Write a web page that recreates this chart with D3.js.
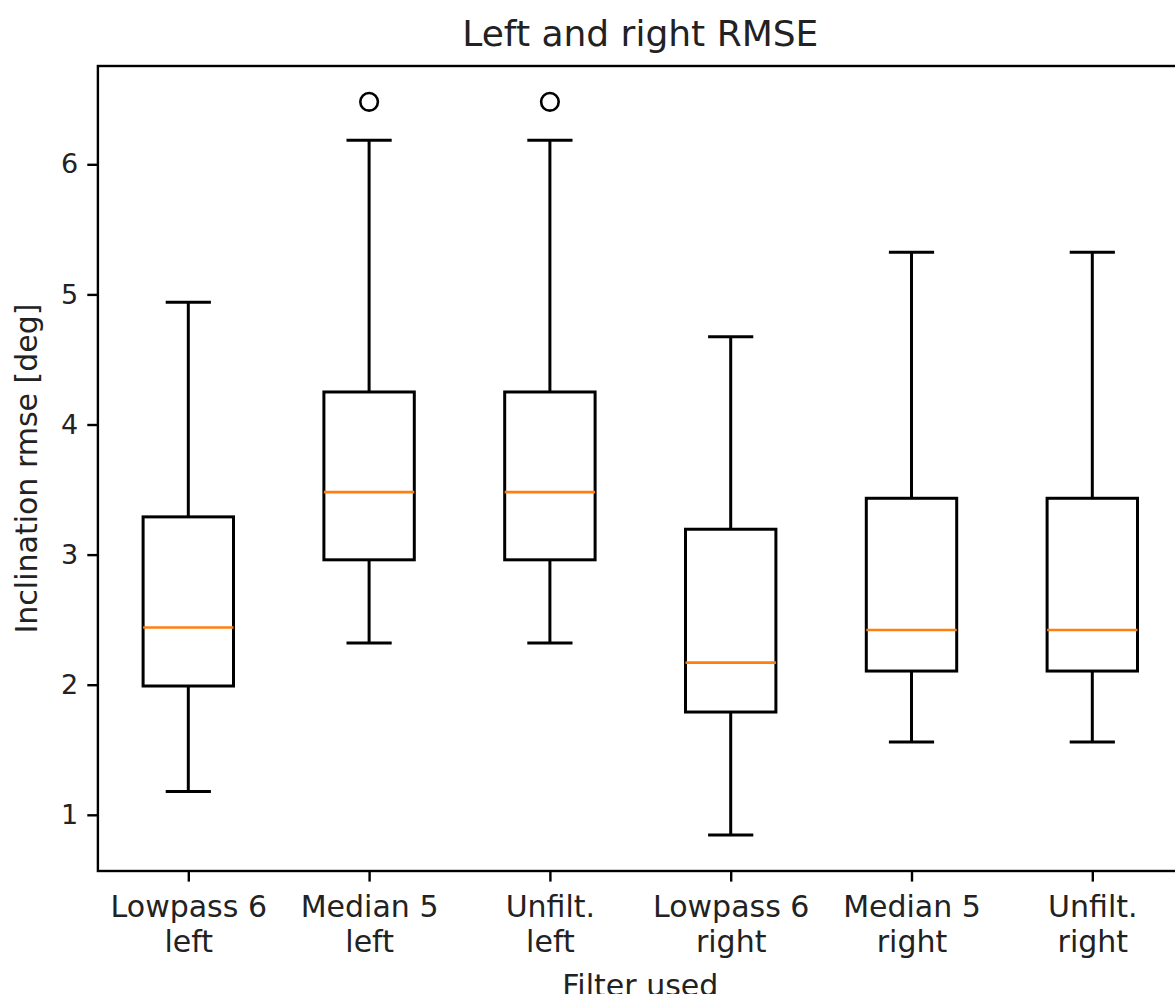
<!DOCTYPE html>
<html>
<head>
<meta charset="utf-8">
<script src="https://cdn.jsdelivr.net/npm/d3@7"></script>
<style>
  html, body { margin: 0; padding: 0; background: #ffffff; }
  svg { display: block; font-family: "DejaVu Sans", sans-serif; }
</style>
</head>
<body>
<svg id="chart" width="1175" height="994"></svg>
<script>
// Box statistics per filter (inclination RMSE, degrees)
const categories = ["Lowpass 6\nleft", "Median 5\nleft", "Unfilt.\nleft",
                    "Lowpass 6\nright", "Median 5\nright", "Unfilt.\nright"];
const whiskerLow  = [1.18, 2.32, 2.32, 0.845, 1.56, 1.56];
const q1          = [1.99, 2.96, 2.96, 1.79, 2.105, 2.105];
const medians     = [2.44, 3.48, 3.48, 2.17, 2.42, 2.42];
const q3          = [3.29, 4.25, 4.25, 3.195, 3.433, 3.433];
const whiskerHigh = [4.94, 6.184, 6.184, 4.675, 5.324, 5.324];
const outliers    = [[], [6.48], [6.48], [], [], []];
const yTicks      = [1, 2, 3, 4, 5, 6];

const svg = d3.select("#chart");
const plotLeft = 97.9, plotRight = 1182.7, plotTop = 66, plotBottom = 871;

const x = d3.scaleLinear().domain([0.5, categories.length + 0.5]).range([plotLeft, plotRight]);
const y = d3.scaleLinear().domain([0.5681, 6.7556]).range([plotBottom, plotTop]);

const boxHalf = (x(1.25) - x(1));     // box width 0.5
const capHalf = (x(1.125) - x(1));    // cap width 0.25

const data = categories.map((c, i) => ({
  pos: i + 1, lo: whiskerLow[i], q1: q1[i], med: medians[i],
  q3: q3[i], hi: whiskerHigh[i], out: outliers[i]
}));

const g = svg.append("g");
const boxes = g.selectAll("g.box").data(data).join("g").attr("class", "box");

// whiskers
boxes.append("line")
  .attr("x1", d => x(d.pos)).attr("x2", d => x(d.pos))
  .attr("y1", d => y(d.lo)).attr("y2", d => y(d.q1))
  .attr("stroke", "#000").attr("stroke-width", 3);
boxes.append("line")
  .attr("x1", d => x(d.pos)).attr("x2", d => x(d.pos))
  .attr("y1", d => y(d.q3)).attr("y2", d => y(d.hi))
  .attr("stroke", "#000").attr("stroke-width", 3);
// caps
boxes.append("line")
  .attr("x1", d => x(d.pos) - capHalf).attr("x2", d => x(d.pos) + capHalf)
  .attr("y1", d => y(d.lo)).attr("y2", d => y(d.lo))
  .attr("stroke", "#000").attr("stroke-width", 3);
boxes.append("line")
  .attr("x1", d => x(d.pos) - capHalf).attr("x2", d => x(d.pos) + capHalf)
  .attr("y1", d => y(d.hi)).attr("y2", d => y(d.hi))
  .attr("stroke", "#000").attr("stroke-width", 3);
// box
boxes.append("rect")
  .attr("x", d => x(d.pos) - boxHalf).attr("width", 2 * boxHalf)
  .attr("y", d => y(d.q3)).attr("height", d => y(d.q1) - y(d.q3))
  .attr("fill", "none").attr("stroke", "#000").attr("stroke-width", 3);
// median
boxes.append("line")
  .attr("x1", d => x(d.pos) - boxHalf).attr("x2", d => x(d.pos) + boxHalf)
  .attr("y1", d => y(d.med)).attr("y2", d => y(d.med))
  .attr("stroke", "#ff7f0e").attr("stroke-width", 2.6);
// fliers
boxes.selectAll("circle").data(d => d.out.map(v => ({pos: d.pos, v})))
  .join("circle")
  .attr("cx", d => x(d.pos)).attr("cy", d => y(d.v)).attr("r", 8.8)
  .attr("fill", "none").attr("stroke", "#000").attr("stroke-width", 2.6);

// axes
const yAxis = svg.append("g")
  .attr("transform", `translate(${plotLeft},0)`)
  .call(d3.axisLeft(y).tickValues(yTicks).tickFormat(d3.format("d")).tickSize(10.6).tickPadding(9));
yAxis.select(".domain").remove();
yAxis.selectAll(".tick line").attr("stroke", "#000").attr("stroke-width", 2.4);
yAxis.selectAll(".tick text").attr("font-size", 27).attr("fill", "#222").attr("font-family", "DejaVu Sans");

const xAxis = svg.append("g")
  .attr("transform", `translate(0,${plotBottom})`)
  .call(d3.axisBottom(x).tickValues(d3.range(1, categories.length + 1)).tickSize(10.6).tickFormat(""));
xAxis.select(".domain").remove();
xAxis.selectAll(".tick line").attr("stroke", "#000").attr("stroke-width", 2.4);
xAxis.selectAll(".tick").each(function(d) {
  const t = d3.select(this).append("text")
    .attr("fill", "#222").attr("font-size", 30).attr("text-anchor", "middle")
    .attr("font-family", "DejaVu Sans");
  categories[d - 1].split("\n").forEach((line, k) => {
    t.append("tspan").attr("x", 0).attr("y", 46 + k * 35).text(line);
  });
});

// frame
svg.append("rect")
  .attr("x", plotLeft).attr("y", plotTop).attr("width", plotRight - plotLeft).attr("height", plotBottom - plotTop)
  .attr("fill", "none").attr("stroke", "#000").attr("stroke-width", 2.4);

// title and axis labels
svg.append("text").attr("x", (plotLeft + plotRight) / 2).attr("y", 46)
  .attr("text-anchor", "middle").attr("font-size", 36).attr("fill", "#222")
  .text("Left and right RMSE");
svg.append("text").attr("x", (plotLeft + plotRight) / 2).attr("y", 996)
  .attr("text-anchor", "middle").attr("font-size", 30).attr("fill", "#222")
  .text("Filter used");
svg.append("text")
  .attr("transform", `translate(37,${(plotTop + plotBottom) / 2}) rotate(-90)`)
  .attr("text-anchor", "middle").attr("font-size", 30).attr("fill", "#222")
  .text("Inclination rmse [deg]");
</script>
</body>
</html>
